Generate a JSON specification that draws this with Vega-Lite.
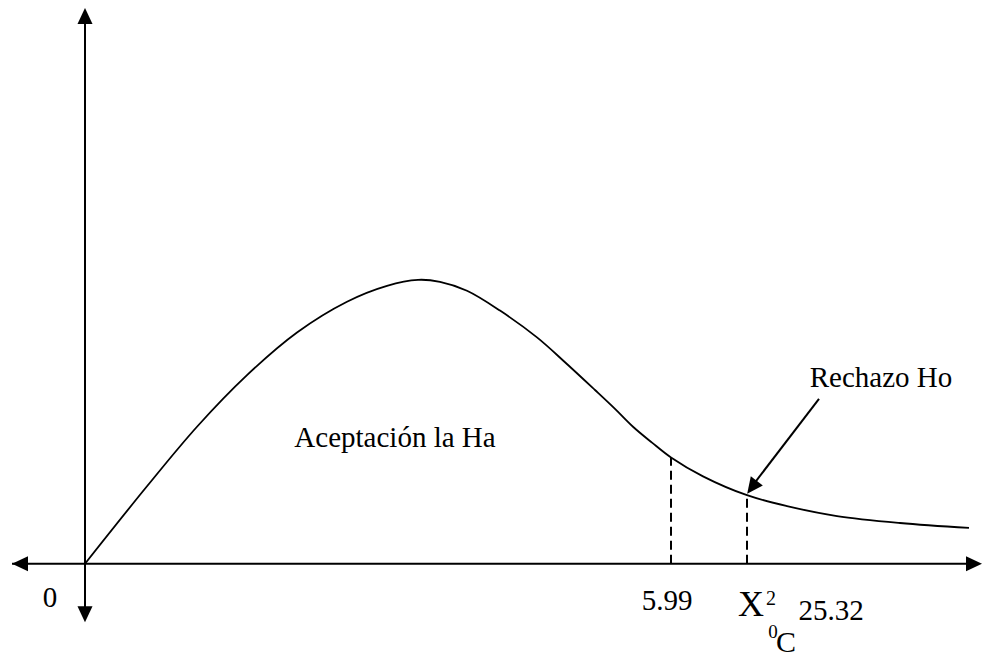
{
  "$schema": "https://vega.github.io/schema/vega-lite/v6.json",
  "width": 982,
  "height": 658,
  "autosize": {"type": "fit", "contains": "padding"},
  "padding": 0,
  "background": "white",
  "config": {"view": {"stroke": null}},
  "datasets": {
    "curve": [
      {"x": 0, "y": 0}, {"x": 62, "y": 78}, {"x": 112, "y": 138}, {"x": 162, "y": 190},
      {"x": 212, "y": 233}, {"x": 262, "y": 264}, {"x": 302, "y": 280}, {"x": 333, "y": 286},
      {"x": 355, "y": 284}, {"x": 382, "y": 275}, {"x": 415, "y": 255}, {"x": 452, "y": 228},
      {"x": 480, "y": 203}, {"x": 510, "y": 175}, {"x": 530, "y": 156}, {"x": 548, "y": 138},
      {"x": 567, "y": 122}, {"x": 586, "y": 107}, {"x": 618, "y": 88}, {"x": 662, "y": 69},
      {"x": 702, "y": 58}, {"x": 752, "y": 48}, {"x": 815, "y": 41}, {"x": 884, "y": 36}
    ],
    "axes": [
      {"x": -73, "y": 0, "x2": 890, "y2": 0},
      {"x": 0, "y": 552, "x2": 0, "y2": -51},
      {"x": 734, "y": 166, "x2": 667, "y2": 78}
    ],
    "dashed": [
      {"x": 586, "y": 0, "x2": 586, "y2": 107},
      {"x": 662, "y": 0, "x2": 662, "y2": 69}
    ],
    "heads": [
      {"x": 0, "y": 552, "angle": 0},
      {"x": 0, "y": -51, "angle": 180},
      {"x": -65, "y": 0, "angle": 270},
      {"x": 889, "y": 0, "angle": 90},
      {"x": 667, "y": 77, "angle": 217}
    ],
    "labels": [
      {"x": 310, "y": 118, "text": "Aceptación la Ha"},
      {"x": 796, "y": 178, "text": "Rechazo Ho"},
      {"x": -35, "y": -44, "text": "0"},
      {"x": 582, "y": -47, "text": "5.99"},
      {"x": 746, "y": -57, "text": "25.32"}
    ],
    "bigX": [{"x": 666, "y": -53, "text": "X"}],
    "sup": [{"x": 686, "y": -42, "text": "2"}],
    "sub0": [{"x": 688, "y": -75, "text": "0"}],
    "subC": [{"x": 701, "y": -89, "text": "C"}]
  },
  "encoding": {
    "x": {"field": "x", "type": "quantitative", "scale": {"domain": [-85, 897], "nice": false, "zero": false}, "axis": null},
    "y": {"field": "y", "type": "quantitative", "scale": {"domain": [-90, 568], "nice": false, "zero": false}, "axis": null}
  },
  "layer": [
    {
      "data": {"name": "axes"},
      "mark": {"type": "rule", "color": "black", "strokeWidth": 2},
      "encoding": {"x2": {"field": "x2"}, "y2": {"field": "y2"}}
    },
    {
      "data": {"name": "dashed"},
      "mark": {"type": "rule", "color": "black", "strokeWidth": 2, "strokeDash": [9, 5]},
      "encoding": {"x2": {"field": "x2"}, "y2": {"field": "y2"}}
    },
    {
      "data": {"name": "curve"},
      "mark": {"type": "line", "color": "black", "strokeWidth": 1.8, "interpolate": "catmull-rom"},
      "encoding": {"order": {"field": "x", "type": "quantitative"}}
    },
    {
      "data": {"name": "heads"},
      "mark": {"type": "point", "shape": "M0,-1L0.94,1L-0.94,1Z", "filled": true, "color": "black", "opacity": 1, "size": 256, "strokeWidth": 0},
      "encoding": {"angle": {"field": "angle", "type": "quantitative", "scale": null}}
    },
    {
      "data": {"name": "labels"},
      "mark": {"type": "text", "font": "Liberation Serif, DejaVu Serif, serif", "fontSize": 29, "color": "black", "align": "center", "baseline": "alphabetic"},
      "encoding": {"text": {"field": "text"}}
    },
    {
      "data": {"name": "bigX"},
      "mark": {"type": "text", "font": "Liberation Serif, DejaVu Serif, serif", "fontSize": 36, "color": "black", "align": "center", "baseline": "alphabetic"},
      "encoding": {"text": {"field": "text"}}
    },
    {
      "data": {"name": "sup"},
      "mark": {"type": "text", "font": "Liberation Serif, DejaVu Serif, serif", "fontSize": 20, "color": "black", "align": "center", "baseline": "alphabetic"},
      "encoding": {"text": {"field": "text"}}
    },
    {
      "data": {"name": "sub0"},
      "mark": {"type": "text", "font": "Liberation Serif, DejaVu Serif, serif", "fontSize": 19, "color": "black", "align": "center", "baseline": "alphabetic"},
      "encoding": {"text": {"field": "text"}}
    },
    {
      "data": {"name": "subC"},
      "mark": {"type": "text", "font": "Liberation Serif, DejaVu Serif, serif", "fontSize": 30, "color": "black", "align": "center", "baseline": "alphabetic"},
      "encoding": {"text": {"field": "text"}}
    }
  ]
}
